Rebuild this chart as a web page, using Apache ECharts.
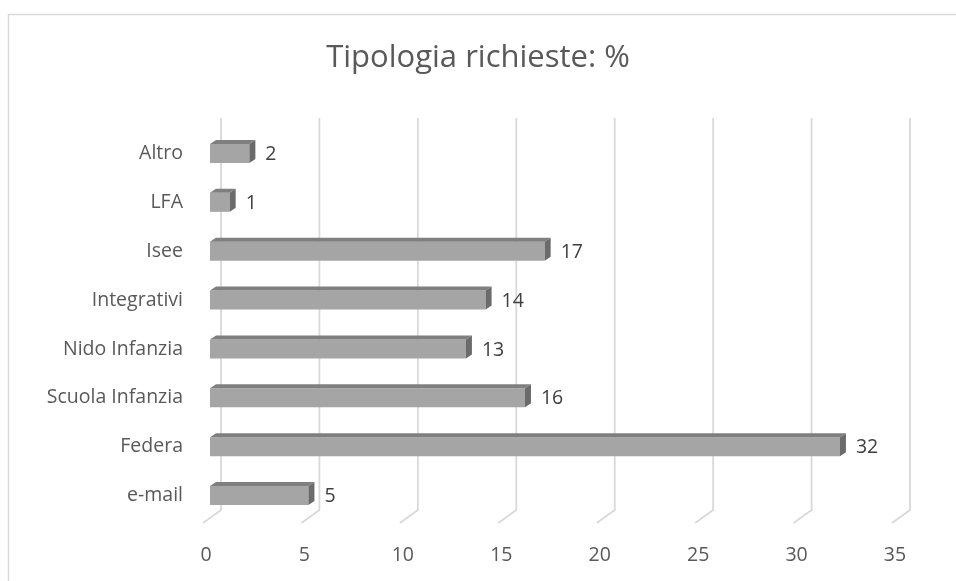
<!DOCTYPE html>
<html>
<head>
<meta charset="utf-8">
<script src="https://cdn.jsdelivr.net/npm/echarts@6/dist/echarts.min.js"></script>
<style>html,body{margin:0;padding:0;background:#fff}#c{width:956px;height:581px}</style>
</head>
<body>
<div id="c"></div>
<script>
const titleText = 'Tipologia richieste: %';
const categories = ['e-mail', 'Federa', 'Scuola Infanzia', 'Nido Infanzia', 'Integrativi', 'Isee', 'LFA', 'Altro'];
const values = [5, 32, 16, 13, 14, 17, 1, 2];
const tickValues = [0, 5, 10, 15, 20, 25, 30, 35];

const FONT = '"Open Sans", "Noto Sans", sans-serif';
const chart = echarts.init(document.getElementById('c'));

chart.setOption({
  animation: false,
  backgroundColor: '#ffffff',
  title: {
    text: titleText, left: 'center', top: 38,
    textStyle: { fontFamily: FONT, fontSize: 31, fontWeight: 'normal', color: '#595959' }
  },
  graphic: [{
    type: 'rect', left: 6, top: 12, shape: { width: 1000, height: 620 },
    style: { fill: 'none', stroke: '#d9d9d9', lineWidth: 1.5 }, silent: true, z: -1
  }],
  grid: { left: 210, right: 57, top: 129, bottom: 61 },
  xAxis: {
    type: 'value', min: 0, max: 35, interval: 5,
    axisLine: { show: false }, axisTick: { show: false }, splitLine: { show: false },
    axisLabel: { margin: 25, padding: [0, 8, 0, 0], fontFamily: FONT, fontSize: 19.5, color: '#595959' }
  },
  yAxis: {
    type: 'category', data: categories,
    axisLine: { show: false }, axisTick: { show: false }, splitLine: { show: false },
    axisLabel: { margin: 27, padding: [8, 0, 0, 0], fontFamily: FONT, fontSize: 19.5, color: '#595959' }
  },
  series: [
    {
      type: 'custom', clip: false, silent: true, z: 1,
      data: tickValues.map(v => [v]),
      encode: { x: 0 },
      renderItem: function (params, api) {
        const cs = params.coordSys;
        const x = api.coord([api.value(0), 0])[0];
        return {
          type: 'polyline',
          shape: { points: [[x + 11, cs.y - 11], [x + 11, cs.y + cs.height - 10], [x - 7, cs.y + cs.height + 3]] },
          style: { fill: null, stroke: '#d9d9d9', lineWidth: 1.8 }
        };
      }
    },
    {
      type: 'custom', clip: false, silent: true, z: 2,
      data: values.map((v, i) => [v, i]),
      encode: { x: 0, y: 1 },
      renderItem: function (params, api) {
        const v = api.value(0), cat = api.value(1);
        const p0 = api.coord([0, cat]);
        const p1 = api.coord([v, cat]);
        const h = api.size([0, 1])[1] * 0.39;
        const x0 = p0[0], x1 = p1[0], yc = p0[1];
        const top = yc - h / 2, bot = yc + h / 2;
        const dx = 6, dy = 4;
        return {
          type: 'group',
          children: [
            { type: 'rect', shape: { x: x0, y: top, width: x1 - x0, height: h }, style: { fill: '#a5a5a5' } },
            { type: 'polygon', shape: { points: [[x0, top], [x0 + dx, top - dy], [x1 + dx, top - dy], [x1, top]] }, style: { fill: '#7f7f7f' } },
            { type: 'polygon', shape: { points: [[x1, top], [x1 + dx, top - dy], [x1 + dx, bot - dy], [x1, bot]] }, style: { fill: '#6b6b6b' } },
            { type: 'text', style: { x: x1 + dx + 10, y: yc + 1, text: String(v), fontFamily: FONT, fontSize: 19.5, fill: '#404040', verticalAlign: 'middle', align: 'left' } }
          ]
        };
      }
    }
  ]
});
</script>
</body>
</html>
